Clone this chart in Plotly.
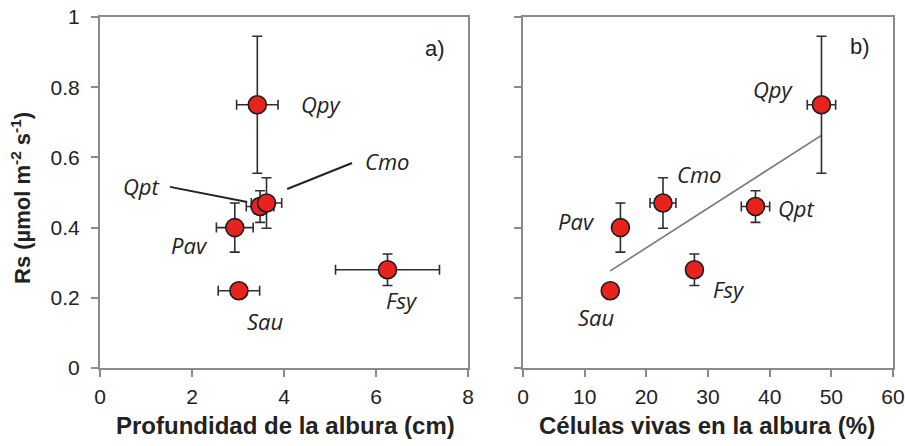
import numpy as np
import plotly.graph_objects as go

# ---- data ----
species = ["Qpy", "Qpt", "Cmo", "Pav", "Sau", "Fsy"]
depth_cm = [3.42, 3.48, 3.62, 2.93, 3.02, 6.25]
depth_err = [0.45, 0.30, 0.33, 0.40, 0.45, 1.13]
rs = [0.75, 0.46, 0.47, 0.40, 0.22, 0.28]
rs_err = [0.195, 0.045, 0.072, 0.070, 0.015, 0.045]
live_pct = [48.4, 37.7, 22.7, 15.8, 14.15, 27.8]
live_err = [2.3, 2.3, 2.1, 0.8, 0.8, 0.8]

# label positions (data units) for each species
lab_a_x = [4.82, 0.91, 6.24, 1.94, 3.59, 6.56]
lab_a_y = [0.752, 0.518, 0.59, 0.35, 0.135, 0.194]
lab_b_x = [40.7, 44.4, 28.6, 8.7, 11.9, 33.4]
lab_b_y = [0.794, 0.455, 0.554, 0.42, 0.144, 0.224]

# leader lines in panel a): (x0, y0, x1, y1)
leaders_a = [(1.52, 0.516, 3.2, 0.473), (4.07, 0.51, 5.48, 0.584)]

x_ticks_a = [0, 2, 4, 6, 8]
x_ticks_b = [0, 10, 20, 30, 40, 50, 60]
y_ticks = [0, 0.2, 0.4, 0.6, 0.8, 1]
y_ticklabels = ["0", "0.2", "0.4", "0.6", "0.8", "1"]

# ---- style ----
RED = "#e8231d"
EDGE = "#1c1c1c"
AXC = "#8a8a8a"
TXT = "#222222"
ERRC = "#2e2e2e"

W, H = 905, 446
xa_dom = [100 / W, 468 / W]
xb_dom = [523 / W, 893 / W]
y_dom = [(H - 368) / H, (H - 17) / H]

fig = go.Figure()

marker = dict(size=18, color=RED, line=dict(color=EDGE, width=1.6))

fig.add_trace(go.Scatter(
    x=depth_cm, y=rs, mode="markers", marker=marker,
    error_x=dict(type="data", array=depth_err, color=ERRC, thickness=1.6, width=5),
    error_y=dict(type="data", array=rs_err, color=ERRC, thickness=1.6, width=5),
    xaxis="x", yaxis="y", showlegend=False, hoverinfo="skip"))

# regression line (panel b)
slope, intercept = np.polyfit(live_pct, rs, 1)
tx = [min(live_pct), max(live_pct)]
ty = [slope * v + intercept for v in tx]
fig.add_trace(go.Scatter(
    x=tx, y=ty, mode="lines", line=dict(color="#777777", width=1.6),
    xaxis="x2", yaxis="y2", showlegend=False, hoverinfo="skip"))

fig.add_trace(go.Scatter(
    x=live_pct, y=rs, mode="markers", marker=marker,
    error_x=dict(type="data", array=live_err, color=ERRC, thickness=1.6, width=5),
    error_y=dict(type="data", array=rs_err, color=ERRC, thickness=1.6, width=5),
    xaxis="x2", yaxis="y2", showlegend=False, hoverinfo="skip"))

ann = []
lab_font = dict(family="Open Sans", size=22, color=TXT)
for s, lx, ly in zip(species, lab_a_x, lab_a_y):
    ann.append(dict(x=lx, y=ly, xref="x", yref="y", text=f"<i>{s}</i>",
                    showarrow=False, font=lab_font))
for s, lx, ly in zip(species, lab_b_x, lab_b_y):
    ann.append(dict(x=lx, y=ly, xref="x2", yref="y2", text=f"<i>{s}</i>",
                    showarrow=False, font=lab_font))

ann.append(dict(x=7.28, y=0.91, xref="x", yref="y", text="a)", showarrow=False,
                font=dict(family="Liberation Sans", size=22, color=TXT)))
ann.append(dict(x=54.6, y=0.915, xref="x2", yref="y2", text="b)", showarrow=False,
                font=dict(family="Liberation Sans", size=22, color=TXT)))

ann.append(dict(x=285 / W, y=(H - 425) / H, xref="paper", yref="paper",
                text="<b>Profundidad de la albura (cm)</b>", showarrow=False,
                font=dict(family="Liberation Sans", size=24, color=TXT),
                xanchor="center", yanchor="middle"))
ann.append(dict(x=707 / W, y=(H - 425) / H, xref="paper", yref="paper",
                text="<b>Células vivas en la albura (%)</b>", showarrow=False,
                font=dict(family="Liberation Sans", size=24, color=TXT),
                xanchor="center", yanchor="middle"))
ann.append(dict(x=21 / W, y=(H - 198) / H, xref="paper", yref="paper",
                text="<b>Rs (µmol m<sup>-2</sup> s<sup>-1</sup>)</b>", showarrow=False,
                textangle=-90, font=dict(family="Liberation Sans", size=22, color=TXT),
                xanchor="center", yanchor="middle"))

shapes = []
for x0, y0, x1, y1 in leaders_a:
    shapes.append(dict(type="line", xref="x", yref="y", x0=x0, y0=y0, x1=x1, y1=y1,
                       line=dict(color="#222222", width=2)))

axis_common = dict(showline=True, mirror=True, linecolor=AXC, linewidth=2,
                   ticks="outside", ticklen=7, tickcolor=AXC, tickwidth=2,
                   showgrid=False, zeroline=False, automargin=False,
                   tickfont=dict(family="Liberation Sans", size=21, color=TXT))

fig.update_layout(
    width=W, height=H,
    margin=dict(l=0, r=0, t=0, b=0, autoexpand=False),
    paper_bgcolor="white", plot_bgcolor="white",
    xaxis=dict(domain=xa_dom, range=[0, 8], tickvals=x_ticks_a, anchor="y",
               ticklabelstandoff=2, **axis_common),
    yaxis=dict(domain=y_dom, range=[0, 1], tickvals=y_ticks, ticktext=y_ticklabels,
               anchor="x", ticklabelstandoff=7, **axis_common),
    xaxis2=dict(domain=xb_dom, range=[0, 60], tickvals=x_ticks_b, anchor="y2",
                ticklabelstandoff=2, **axis_common),
    yaxis2=dict(domain=y_dom, range=[0, 1], tickvals=y_ticks, anchor="x2",
                showticklabels=False, **axis_common),
    annotations=ann, shapes=shapes,
)

fig.write_html("out.html", config={"displayModeBar": False},
               post_script="document.body.style.margin='0';document.body.style.overflow='hidden';")
